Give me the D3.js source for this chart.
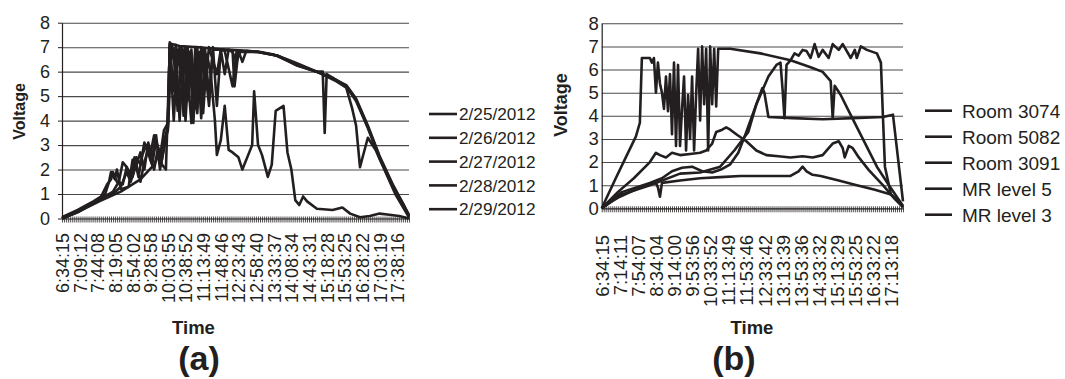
<!DOCTYPE html>
<html>
<head>
<meta charset="utf-8">
<script src="https://cdn.jsdelivr.net/npm/d3@7/dist/d3.min.js"></script>
<style>
  body { margin: 0; background: #fff; }
  svg { display: block; font-family: "Liberation Sans", Arial, sans-serif; }
</style>
</head>
<body>
<svg id="chart" width="1065" height="379"></svg>
<script>
// (a) five days; points are [sample index, volts], one sample every ~3:53
const dayNames = ['2/25/2012', '2/26/2012', '2/27/2012', '2/28/2012', '2/29/2012'];
const dayTimeLabels = ['6:34:15', '7:09:12', '7:44:08', '8:19:05', '8:54:02', '9:28:58', '10:03:55',
  '10:38:52', '11:13:49', '11:48:46', '12:23:43', '12:58:40', '13:33:37', '14:08:34', '14:43:31',
  '15:18:28', '15:53:25', '16:28:22', '17:03:19', '17:38:16'];
const daySampleCount = 178;
const dayLabelStep = 9;

const day25 = [[0,0],[9,0.3],[19,0.7],[30,1.1],[40,1.6],[47,2.2],[51,2.9],[54,3.7],[55,7.15],[60,7.05],
  [70,7.0],[80,6.92],[90,6.87],[100,6.82],[108,6.7],[115,6.45],[121,6.25],[128,6.05],[138,5.75],[145,5.4],
  [150,4.85],[156,3.75],[162,2.5],[169,1.3],[174,0.6],[177,0.1]];
const day26 = [[0,0.05],[8,0.35],[16,0.7],[22,1.0],[24,1.5],[25,1.9],[27,1.6],[28,2.0],[30,1.2],[34,1.3],
  [36,2.4],[38,2.2],[40,1.5],[42,2.3],[44,2.8],[46,2.2],[48,3.2],[50,2.5],[52,3.6],[54,3.9],[55,7.1],
  [57,4.0],[59,6.9],[61,5.5],[63,7.0],[66,3.9],[68,7.0],[70,4.8],[72,6.9],[75,4.6],[77,6.9],[80,6.9],
  [83,6.85],[87,5.4],[89,6.8],[100,6.8],[110,6.65],[120,6.25],[130,6.0],[133,6.0],[134,3.5],[135,5.9],
  [140,5.65],[145,5.4],[150,4.8],[156,3.7],[162,2.45],[169,1.25],[177,0.1]];
const day27 = [[0,0],[10,0.35],[20,0.8],[26,1.1],[29,1.5],[31,2.3],[33,2.1],[35,1.6],[37,2.5],[39,1.7],
  [41,2.6],[43,3.0],[45,2.4],[47,2.0],[49,2.9],[51,2.4],[53,3.3],[54,3.6],[56,7.1],[58,6.0],[60,7.0],
  [62,4.2],[64,7.0],[66,6.1],[69,4.3],[71,7.0],[73,5.5],[75,7.0],[79,5.9],[81,6.9],[87,6.85],[88,5.4],
  [90,6.85],[92,6.4],[94,6.85],[100,6.8],[110,6.65],[120,6.25],[130,6.0],[140,5.6],[145,5.35],[148,4.5],
  [150,3.8],[152,2.1],[153,2.4],[156,3.3],[160,2.8],[165,1.9],[170,1.0],[177,0.05]];
const day28 = [[0,0.02],[6,0.2],[12,0.5],[18,0.75],[22,0.95],[26,1.0],[30,1.3],[33,1.9],[35,1.5],[38,2.2],
  [40,2.7],[42,2.0],[44,3.1],[46,2.5],[48,3.4],[50,2.0],[52,2.9],[54,3.8],[55,7.2],[57,6.9],[59,4.4],
  [61,7.0],[63,4.0],[65,6.8],[67,3.9],[69,7.0],[71,4.1],[73,6.9],[75,5.0],[77,7.0],[79,4.6],[81,6.9],
  [83,5.9],[85,6.9],[87,6.8],[89,6.4],[91,6.85],[100,6.8],[110,6.65],[115,6.5],[121,6.3],[130,6.0],
  [140,5.65],[145,5.45],[150,4.9],[156,3.8],[162,2.55],[169,1.35],[177,0.15]];
const day29 = [[0,0],[8,0.25],[15,0.6],[20,0.9],[23,1.4],[25,1.6],[26,1.9],[28,1.5],[31,1.4],[33,2.1],
  [36,1.7],[38,2.5],[40,2.2],[42,3.1],[45,2.6],[47,3.4],[49,2.9],[51,2.2],[53,2.0],[55,7.0],[57,5.2],
  [58,7.1],[60,4.0],[62,6.9],[64,4.8],[66,6.9],[68,4.5],[70,6.8],[72,4.3],[74,6.7],[76,5.8],[78,4.0],
  [79,2.6],[81,3.2],[83,4.6],[85,2.8],[87,2.7],[90,2.5],[92,2.0],[95,2.6],[97,3.0],[98,5.2],[100,3.0],
  [102,2.6],[105,1.7],[107,2.2],[109,4.4],[113,4.6],[115,2.7],[117,2.0],[119,0.75],[121,0.55],[123,0.9],
  [125,0.7],[130,0.4],[138,0.35],[143,0.45],[147,0.2],[152,0.05],[157,0.1],[162,0.2],[167,0.15],
  [172,0.1],[177,0]];

// (b) five locations on one day
const roomNames = ['Room 3074', 'Room 5082', 'Room 3091', 'MR level 5', 'MR level 3'];
const roomTimeLabels = ['6:34:15', '7:14:11', '7:54:07', '8:34:04', '9:14:00', '9:53:56', '10:33:52',
  '11:13:49', '11:53:46', '12:33:42', '13:13:39', '13:53:36', '14:33:32', '15:13:29', '15:53:25',
  '16:33:22', '17:13:18'];
const roomSampleCount = 151;
const roomLabelStep = 9;

const room3074 = [[0,0],[7,1.3],[12,2.2],[17,3.1],[19,3.7],[20,6.5],[24,6.5],[25,6.3],[26,6.5],[27,5.0],
  [28,6.3],[29,5.4],[30,5.0],[31,4.3],[32,5.7],[33,4.2],[34,5.8],[35,3.2],[36,6.3],[37,2.7],[38,6.2],
  [39,2.7],[40,4.3],[41,5.7],[42,2.5],[43,4.9],[44,3.0],[45,5.7],[46,2.5],[47,4.9],[48,6.9],[49,3.8],
  [50,7.0],[51,4.5],[52,6.9],[53,2.5],[54,7.0],[55,4.5],[56,6.9],[57,4.4],[58,6.9],[64,6.9],[79,6.7],
  [94,6.4],[104,6.1],[110,5.9],[114,5.5],[115,3.9],[116,5.3],[119,4.9],[123,4.2],[130,3.0],[137,1.8],
  [143,1.0],[150,0.1]];
const room5082 = [[0,0],[10,0.7],[24,1.1],[30,1.3],[35,1.6],[40,1.75],[45,1.8],[50,1.6],[55,1.55],[60,1.7],
  [64,1.9],[68,2.4],[72,3.3],[77,4.5],[83,5.7],[87,6.2],[89,6.3],[90,5.2],[91,3.9],[92,6.2],[94,6.4],
  [96,6.7],[98,6.6],[100,6.85],[102,6.8],[104,6.5],[106,7.1],[108,6.55],[110,6.85],[113,6.5],[115,7.1],
  [118,6.85],[120,7.1],[124,6.5],[126,6.85],[127,6.5],[129,7.0],[132,6.85],[137,6.7],[139,6.3],[140,4.0],
  [141,1.8],[144,0.6],[150,0.1]];
const room3091 = [[0,0],[10,0.6],[24,1.0],[39,1.5],[49,1.55],[59,1.8],[66,2.5],[73,3.3],[77,4.5],[80,5.2],
  [81,5.0],[83,3.95],[95,3.9],[110,3.85],[125,3.9],[140,3.95],[145,4.05],[150,0.3]];
const mrLevel5 = [[0,0],[8,0.7],[16,1.3],[24,2.0],[27,2.4],[29,2.3],[32,2.2],[35,2.4],[39,2.3],[44,2.35],
  [49,2.4],[52,2.5],[55,2.8],[57,3.3],[60,3.4],[62,3.5],[64,3.4],[67,3.2],[72,2.9],[77,2.5],[82,2.3],
  [88,2.25],[94,2.2],[100,2.25],[105,2.2],[110,2.3],[113,2.6],[115,2.8],[118,2.9],[120,2.6],[121,2.2],
  [123,2.7],[125,2.6],[128,2.2],[133,1.65],[140,1.0],[146,0.4],[150,0.05]];
const mrLevel3 = [[0,0],[5,0.3],[9,0.5],[19,0.9],[27,1.1],[28,0.9],[29,0.5],[30,1.1],[39,1.2],[49,1.3],
  [59,1.35],[69,1.4],[80,1.4],[94,1.4],[98,1.6],[100,1.8],[102,1.6],[105,1.45],[109,1.4],[118,1.2],
  [127,1.0],[136,0.8],[144,0.6],[150,0.05]];

const voltTicks = [0, 1, 2, 3, 4, 5, 6, 7, 8];
const ink = '#231f20';

const svg = d3.select('#chart');

function drawPanel(p) {
  const x = d3.scaleLinear().domain([0, p.count - 1]).range([p.left, p.right]);
  const y = d3.scaleLinear().domain([0, 8]).range([p.bottom, p.top]);

  // grid
  svg.append('g')
    .attr('transform', `translate(${p.left},0)`)
    .call(d3.axisLeft(y).tickValues(voltTicks.slice(1)).tickSize(-(p.right - p.left)).tickFormat(''))
    .call(g => g.select('.domain').remove())
    .selectAll('.tick line')
    .attr('stroke', '#4a4a4a')
    .attr('stroke-width', 1.1);

  // series
  const line = d3.line().x(d => x(d[0])).y(d => y(d[1]));
  svg.append('g').selectAll('path')
    .data(p.series)
    .enter()
    .append('path')
    .attr('d', line)
    .attr('fill', 'none')
    .attr('stroke', ink)
    .attr('stroke-width', 2.6)
    .attr('stroke-linejoin', 'round');

  // y axis
  svg.append('g')
    .attr('transform', `translate(${p.left},0)`)
    .call(d3.axisLeft(y).tickValues(voltTicks).tickSize(p.yTick).tickSizeOuter(0).tickPadding(p.yPad))
    .attr('color', ink)
    .attr('font-size', p.tickFont)
    .attr('font-family', null)
    .call(g => g.select('.domain').attr('stroke-width', 1.2));

  // x axis: one tick per sample
  const xa = svg.append('g')
    .attr('transform', `translate(0,${p.bottom})`)
    .call(d3.axisBottom(x).tickValues(d3.range(p.count)).tickSize(4).tickSizeOuter(0).tickFormat(''))
    .attr('color', ink);
  xa.select('.domain').attr('stroke-width', 1.2);
  xa.selectAll('.tick line').attr('y1', -2).attr('stroke-width', 0.8);

  // time labels every labelStep samples
  const labelIdx = p.labels.map((_, k) => k * p.labelStep);
  svg.append('g')
    .attr('transform', `translate(0,${p.labelTop})`)
    .call(d3.axisBottom(x).tickValues(labelIdx).tickSize(0).tickFormat(d => p.labels[d / p.labelStep]))
    .attr('color', ink)
    .attr('font-size', p.tickFont)
    .attr('font-family', null)
    .call(g => g.select('.domain').remove())
    .selectAll('text')
    .attr('x', 0)
    .attr('y', 0)
    .attr('dy', '0.36em')
    .attr('text-anchor', 'end')
    .attr('transform', 'rotate(-90)');

  // titles
  svg.append('text')
    .attr('transform', `translate(${p.voltX},${p.voltY}) rotate(-90)`)
    .attr('text-anchor', 'middle')
    .attr('font-weight', 'bold')
    .attr('font-size', p.voltFont)
    .attr('fill', ink)
    .text('Voltage');

  svg.append('text')
    .attr('x', p.timeX)
    .attr('y', 334)
    .attr('text-anchor', 'middle')
    .attr('font-weight', 'bold')
    .attr('font-size', 18.5)
    .attr('fill', ink)
    .text('Time');

  svg.append('text')
    .attr('x', p.tagX)
    .attr('y', 370)
    .attr('text-anchor', 'middle')
    .attr('font-weight', 'bold')
    .attr('font-size', 34)
    .attr('fill', ink)
    .text(p.tag);

  // legend
  const leg = svg.append('g').selectAll('g')
    .data(p.names)
    .enter()
    .append('g')
    .attr('transform', (d, i) => `translate(0,${p.legTop + i * p.legGap})`);
  leg.append('line')
    .attr('x1', p.legX1).attr('x2', p.legX2)
    .attr('stroke', ink).attr('stroke-width', 2.6);
  leg.append('text')
    .attr('x', p.legTextX)
    .attr('dy', '0.36em')
    .attr('font-size', p.legFont)
    .attr('fill', ink)
    .text(d => d);
}

drawPanel({
  series: [day25, day26, day27, day28, day29], names: dayNames, tag: '(a)',
  count: daySampleCount, labels: dayTimeLabels, labelStep: dayLabelStep,
  left: 62, right: 409, top: 22.7, bottom: 218.5, labelTop: 233,
  yTick: 4, yPad: 8, tickFont: 18,
  voltX: 25, voltY: 111.5, voltFont: 16, timeX: 193.5, tagX: 199,
  legX1: 429, legX2: 457, legTextX: 459, legTop: 114, legGap: 23.8, legFont: 17.2
});

drawPanel({
  series: [room3074, room5082, room3091, mrLevel5, mrLevel3], names: roomNames, tag: '(b)',
  count: roomSampleCount, labels: roomTimeLabels, labelStep: roomLabelStep,
  left: 601.7, right: 903, top: 23.3, bottom: 208.3, labelTop: 235,
  yTick: 0, yPad: 3, tickFont: 18.5,
  voltX: 567, voltY: 105, voltFont: 18, timeX: 752, tagX: 734,
  legX1: 925, legX2: 952, legTextX: 962, legTop: 110.7, legGap: 26, legFont: 19
});
</script>
</body>
</html>
